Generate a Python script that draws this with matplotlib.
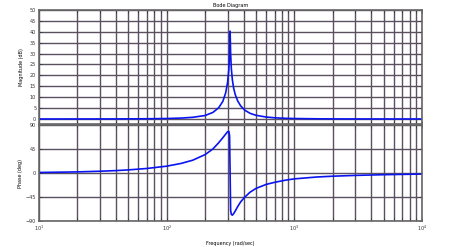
import matplotlib
matplotlib.use("Agg")
import matplotlib.pyplot as plt
import numpy as np
from matplotlib.ticker import LogLocator, NullFormatter

# values
mag_freq = [10, 20, 40, 70, 100, 130, 160, 200, 230, 255, 275, 290, 300, 307, 311, 314,
            317, 321, 327, 335, 345, 360, 380, 410, 450, 500, 600, 700, 850, 1000,
            1500, 2000, 3000, 5000, 10000]
mag_db = [0, 0.01, 0.03, 0.1, 0.22, 0.42, 0.77, 1.6, 3.0, 5.1, 8.0, 12.0, 16.8, 22.8, 29.8, 40.3,
          29.9, 23.2, 18.0, 14.0, 11.1, 8.3, 6.0, 4.0, 2.6, 1.7, 0.9, 0.55, 0.32, 0.21,
          0.08, 0.04, 0.02, 0.01, 0.0]

ph_freq = [10, 15, 20, 30, 40, 50, 70, 100, 130, 160, 200, 230, 255, 275, 290, 300, 307, 311, 314,
           317, 321, 327, 335, 345, 360, 380, 410, 450, 500, 600, 700, 850, 1000,
           1500, 2000, 3000, 5000, 7000, 10000]
ph_deg = [1.0, 1.6, 2.1, 3.3, 4.5, 5.8, 8.5, 12.8, 18, 24, 34.5, 45, 56.5, 66, 73, 77.5, 78, 70, 0,
          -70, -77.8, -79, -76, -71, -63, -54, -45, -36, -29, -21.5, -17.5, -13.5, -11,
          -7.5, -6, -4.5, -3.2, -2.6, -2]

mag_ticks = [0, 5, 10, 15, 20, 25, 30, 35, 40, 45, 50]
ph_ticks = [-90, -45, 0, 45, 90]

W, H = 465, 247
fig = plt.figure(figsize=(W / 100, H / 100), dpi=100)
grid_c = '#5a5060'
line_c = '#0a14f0'

def frame(x0, y0, x1, y1):
    return [x0 / W, 1 - y1 / H, (x1 - x0) / W, (y1 - y0) / H]

ax1 = fig.add_axes(frame(39, 10, 422, 124))
ax2 = fig.add_axes(frame(39, 125, 422, 221))

ax1.plot(mag_freq, mag_db, color=line_c, lw=1.2)
ax2.plot(ph_freq, ph_deg, color=line_c, lw=1.2)

for ax in (ax1, ax2):
    ax.set_xscale('log')
    ax.set_xlim(10, 10000)
    ax.xaxis.set_major_locator(LogLocator(base=10, numticks=10))
    ax.xaxis.set_minor_locator(LogLocator(base=10, subs=np.arange(2, 10), numticks=20))
    ax.xaxis.set_minor_formatter(NullFormatter())
    ax.grid(True, which='both', axis='x', color=grid_c, lw=1.0)
    ax.grid(True, which='major', axis='y', color=grid_c, lw=1.0)
    ax.tick_params(which='both', direction='in', length=2, width=0.5,
                   labelsize=3.5, colors='#333333', top=True, right=True, pad=2)
    for s in ax.spines.values():
        s.set_color('#666666')
        s.set_linewidth(1.2)
    ax.set_axisbelow(True)

ax1.set_ylim(-2.3, 50)
ax1.set_yticks(mag_ticks)
ax1.tick_params(labelbottom=False)
ax1.set_ylabel('Magnitude (dB)', fontsize=3.5, labelpad=4)
ax1.set_title('Bode Diagram', fontsize=3.5, pad=2)

ax2.set_ylim(-90, 90)
ax2.set_yticks(ph_ticks)
ax2.set_ylabel('Phase (deg)', fontsize=3.5, labelpad=2)
ax2.set_xlabel('Frequency (rad/sec)', fontsize=3.5, labelpad=6)

fig.savefig('out.png', dpi=100)
